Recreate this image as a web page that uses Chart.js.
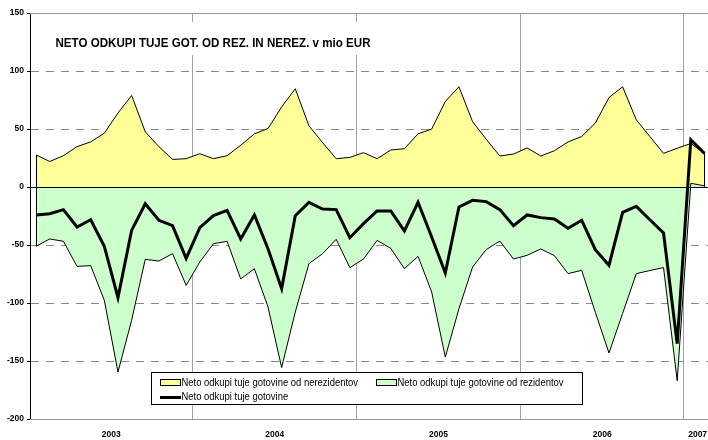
<!DOCTYPE html>
<html><head><meta charset="utf-8">
<script src="https://cdn.jsdelivr.net/npm/chart.js@4.4.0/dist/chart.umd.min.js"></script>
<style>html,body{margin:0;padding:0;background:#fff;}#wrap{width:708px;height:440px;}</style>
</head><body><div id="wrap"><canvas id="c" width="708" height="440"></canvas></div>
<script>
const years = ['2003','2004','2005','2006','2007'];
const monthsPerYear = [12,12,12,12,2];
const nonResidents = [
27.6, 22.0, 27.0, 34.8, 38.9, 46.4, 63.8, 78.9, 47.6, 34.8, 23.8, 24.4,
28.7, 24.4, 27.0, 36.0, 45.8, 50.4, 69.0, 84.7, 52.8, 38.3, 24.4, 25.5,
29.6, 24.4, 31.9, 33.0, 45.8, 49.9, 73.7, 86.4, 56.3, 41.2, 26.7, 28.4,
33.7, 26.7, 31.3, 38.9, 43.5, 55.1, 77.1, 86.4, 58.0, 43.5, 29.0, 33.4,
37.5, 29.0];
const residents = [
-51.1, -44.8, -46.8, -68.4, -67.8, -97.7, -159.5, -114.9, -62.4, -63.8, -57.5, -84.8,
-64.7, -48.9, -46.8, -79.3, -70.4, -103.4, -155.7, -107.8, -66.1, -57.5, -45.1, -69.5,
-62.1, -46.0, -52.9, -70.4, -59.8, -90.5, -146.6, -105.0, -69.0, -54.0, -46.6, -62.1,
-58.9, -53.4, -59.2, -74.7, -71.8, -108.0, -143.1, -109.0, -74.7, -72.0, -69.5, -167.0,
3.2, 1.0];
const total = [
-24.1, -23.0, -19.5, -34.5, -28.2, -51.1, -95.4, -37.4, -14.4, -28.7, -33.3, -61.5,
-35.1, -24.7, -20.1, -44.8, -24.1, -53.2, -87.6, -24.7, -13.2, -19.0, -19.5, -43.7,
-31.6, -20.7, -20.7, -37.9, -13.2, -43.1, -74.1, -17.2, -11.5, -12.6, -19.5, -33.3,
-24.1, -26.4, -27.6, -35.6, -28.7, -54.0, -67.5, -21.8, -16.7, -28.2, -39.7, -135.0,
40.7, 29.0];
const yTicks = [-200,-150,-100,-50,0,50,100,150];
const titleText = 'NETO ODKUPI TUJE GOT. OD REZ. IN NEREZ. v mio EUR';
const legendLabels = ['Neto odkupi tuje gotovine od nerezidentov','Neto odkupi tuje gotovine od rezidentov','Neto odkupi tuje gotovine'];

const FONT = '"Liberation Sans", Arial, sans-serif';
const toXY = arr => arr.map((v,i)=>({x:i,y:v}));

let start = 0; const boundaries = []; const centers = [];
monthsPerYear.forEach((n,k)=>{
  centers.push({value:start+(n-1)/2, label:years[k]});
  start += n;
  if (k < years.length-1) boundaries.push(start-0.5);
});
const isBoundary = v => boundaries.some(b=>Math.abs(b-v)<1e-6);

const decorPlugin = {
  id:'decor',
  beforeDatasetsDraw(chart){
    const {ctx, chartArea:a, scales:{y}} = chart;
    ctx.save();
    ctx.strokeStyle = '#999'; ctx.lineWidth = 1;
    [150,-200].forEach(v=>{
      const py = Math.round(y.getPixelForValue(v))+0.5;
      ctx.beginPath(); ctx.moveTo(a.left, py); ctx.lineTo(a.right, py); ctx.stroke();
    });
    ctx.restore();
  },
  afterDatasetDraw(chart, args){
    const i = args.index;
    if (i > 1) return;
    const {ctx, chartArea:a, scales:{y}} = chart;
    const meta = chart.getDatasetMeta(i);
    const pts = meta.data;
    const y0 = y.getPixelForValue(0);
    ctx.save();
    ctx.strokeStyle = '#000'; ctx.lineWidth = 1;
    [pts[0], pts[pts.length-1]].forEach(p=>{
      ctx.beginPath(); ctx.moveTo(Math.round(p.x)+0.5, y0); ctx.lineTo(Math.round(p.x)+0.5, p.y); ctx.stroke();
    });
    if (i === 1) {
      const py = Math.round(y0)+0.5;
      ctx.beginPath(); ctx.moveTo(a.left, py); ctx.lineTo(a.right, py); ctx.stroke();
    }
    ctx.restore();
  },
  afterDraw(chart){
    const ctx = chart.ctx;
    ctx.save();
    ctx.fillStyle = '#fff';
    ctx.fillRect(52, 22, 324, 33);
    ctx.font = 'bold 12.5px ' + FONT;
    ctx.fillStyle = '#000';
    ctx.textBaseline = 'middle';
    let w = ctx.measureText(titleText).width;
    let sx = 315 / w;
    ctx.save(); ctx.translate(55.5, 43.5); ctx.scale(sx,1); ctx.fillText(titleText, 0, 0); ctx.restore();
    ctx.fillStyle = '#fff';
    ctx.fillRect(151.5, 372.5, 431, 32);
    ctx.strokeStyle = '#000'; ctx.lineWidth = 1;
    ctx.strokeRect(151.5, 372.5, 431, 32);
    ctx.font = '10.5px ' + FONT;
    w = ctx.measureText(legendLabels[0]).width;
    sx = 176.5 / w;
    const drawTxt = (t,x,y)=>{ctx.save(); ctx.translate(x,y); ctx.scale(sx,1); ctx.fillStyle='#000'; ctx.fillText(t,0,0); ctx.restore();};
    ctx.fillStyle = '#FFFF99'; ctx.fillRect(160.5, 379.5, 20, 6); ctx.strokeRect(160.5, 379.5, 20, 6);
    drawTxt(legendLabels[0], 181.5, 383);
    ctx.fillStyle = '#CCFFCC'; ctx.fillRect(376.5, 379.5, 20, 6); ctx.strokeRect(376.5, 379.5, 20, 6);
    drawTxt(legendLabels[1], 397.5, 383);
    ctx.lineWidth = 3; ctx.beginPath(); ctx.moveTo(160, 397.5); ctx.lineTo(181, 397.5); ctx.stroke();
    drawTxt(legendLabels[2], 181.5, 397.5);
    ctx.restore();
  }
};

new Chart(document.getElementById('c'), {
  type:'line',
  data:{
    datasets:[
      {label:legendLabels[0], data:toXY(nonResidents), order:2, fill:'origin',
       backgroundColor:'#FFFF99', borderColor:'#000', borderWidth:1, pointRadius:0, tension:0},
      {label:legendLabels[1], data:toXY(residents), order:1, fill:'origin',
       backgroundColor:'#CCFFCC', borderColor:'#000', borderWidth:1, pointRadius:0, tension:0},
      {label:legendLabels[2], data:toXY(total), order:0, fill:false,
       borderColor:'#000', borderWidth:3, pointRadius:0, tension:0, borderJoinStyle:'miter'}
    ]
  },
  options:{
    responsive:false, animation:false, devicePixelRatio:1,
    layout:{padding:{top:13, right:0, left:0, bottom:0}},
    plugins:{legend:{display:false}, title:{display:false}, tooltip:{enabled:false}},
    scales:{
      x:{type:'linear', min:-0.45, max:49.26,
        afterBuildTicks: s => { s.ticks = [...boundaries, ...centers.map(c=>c.value)].sort((a,b)=>a-b).map(v=>({value:v})); },
        afterFit: s => { s.height = 21; s.paddingLeft = 0; s.paddingRight = 0; },
        grid:{color: c => (c.tick && isBoundary(c.tick.value)) ? '#A0A0A0' : 'rgba(0,0,0,0)', lineWidth:1, drawTicks:false},
        border:{display:false},
        ticks:{autoSkip:false, maxRotation:0, padding:11, color:'#000',
          font:{family:FONT, size:8.5, weight:'bold'},
          callback: v => { const c = centers.find(c=>Math.abs(c.value-v)<1e-6); return c ? c.label : ''; }}
      },
      y:{min:-200, max:150,
        afterBuildTicks: s => { s.ticks = yTicks.map(v=>({value:v})); },
        afterFit: s => { s.width = 30; s.paddingTop = 0; s.paddingBottom = 0; },
        grid:{color: c => (c.tick && [150,0,-200].includes(c.tick.value)) ? 'rgba(0,0,0,0)' : '#888',
          lineWidth:1, tickColor:'#000', tickLength:3, drawTicks:true},
        border:{display:true, color:'#000', width:1, dash:[8,7]},
        ticks:{padding:3, color:'#000', font:{family:FONT, size:8.5, weight:'bold'}}
      }
    }
  },
  plugins:[decorPlugin]
});
</script></body></html>
